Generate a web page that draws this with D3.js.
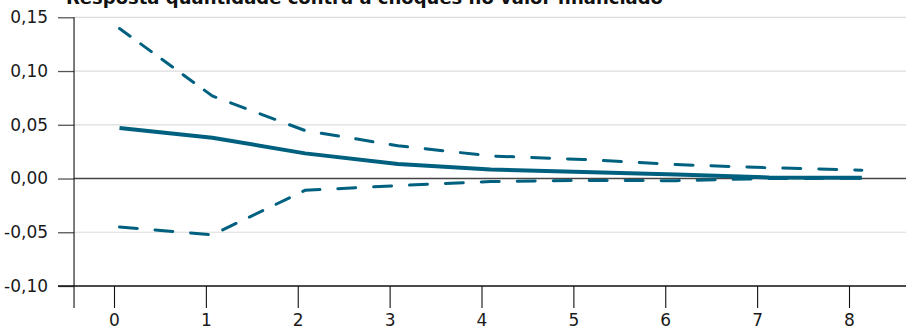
<!DOCTYPE html>
<html>
<head>
<meta charset="utf-8">
<script src="https://cdn.jsdelivr.net/npm/d3@7"></script>
<style>
  html, body { margin: 0; padding: 0; background: #fff; }
  svg { display: block; }
</style>
</head>
<body>
<svg id="chart" width="906" height="331"></svg>
<script>
// Impulse response: quantity vs. shocks to the financed value
const title = "Resposta quantidade contra a choques no valor financiado";
const periods = [0, 1, 2, 3, 4, 5, 6, 7, 8];
const response = [0.047, 0.038, 0.0234, 0.0135, 0.0085, 0.006, 0.0038, 0.001, 0.0008];
const upperBand = [0.1396, 0.0768, 0.0446, 0.0305, 0.021, 0.0177, 0.013, 0.010, 0.0078];
const lowerBand = [-0.045, -0.0524, -0.011, -0.0066, -0.0028, -0.0018, -0.002, 0.0, 0.0003];
const xTicks = [0, 1, 2, 3, 4, 5, 6, 7, 8];
const yTicks = [-0.10, -0.05, 0.00, 0.05, 0.10, 0.15];

const color = "#00607f";
const font = "'DejaVu Sans', sans-serif";
const W = 906, H = 331;

const svg = d3.select("#chart");

const x = d3.scaleLinear().domain([0, 8]).range([114, 849]);
const y = d3.scaleLinear().domain([-0.10, 0.15]).range([286, 17.3]);
// series points sit slightly to the right of the axis ticks
const xStep = d3.scaleLinear().domain([0, 8]).range([x(0.06), x(8.14)]);

const axisX = x(-0.435);
const tickLen = 22;

// gridlines
svg.append("g").selectAll("line")
  .data(yTicks.filter(v => v !== 0 && v !== -0.10))
  .join("line")
  .attr("x1", axisX).attr("x2", W)
  .attr("y1", d => y(d)).attr("y2", d => y(d))
  .attr("stroke", "#dcdcdc").attr("stroke-width", 1.2);

// zero line
svg.append("line")
  .attr("x1", axisX).attr("x2", W)
  .attr("y1", y(0)).attr("y2", y(0))
  .attr("stroke", "#444").attr("stroke-width", 1.5);

// y axis
const yAxis = d3.axisLeft(y).tickValues(yTicks)
  .tickFormat(d => d3.format(".2f")(d).replace(".", ",").replace("−", "-"))
  .tickSize(16).tickPadding(10);
const gy = svg.append("g").attr("transform", `translate(${axisX},0)`).call(yAxis);
gy.select(".domain").remove();
gy.selectAll(".tick line").attr("stroke", "#555").attr("stroke-width", 1.3);
gy.selectAll(".tick text").attr("font-family", font).attr("font-size", 17).attr("fill", "#1a1a1a");
svg.append("line")
  .attr("x1", axisX).attr("x2", axisX)
  .attr("y1", y(0.15)).attr("y2", y(-0.10) + tickLen)
  .attr("stroke", "#111").attr("stroke-width", 1.1);

// x axis
const xAxis = d3.axisBottom(x).tickValues(xTicks).tickFormat(d3.format("d"))
  .tickSize(tickLen).tickPadding(6);
const gx = svg.append("g").attr("transform", `translate(0,${y(-0.10)})`).call(xAxis);
gx.select(".domain").remove();
gx.selectAll(".tick line").attr("stroke", "#111").attr("stroke-width", 1.1);
gx.selectAll(".tick text").attr("font-family", font).attr("font-size", 17).attr("fill", "#1a1a1a");
svg.append("line")
  .attr("x1", axisX - 16).attr("x2", W)
  .attr("y1", y(-0.10)).attr("y2", y(-0.10))
  .attr("stroke", "#111").attr("stroke-width", 1.3);

// dash pattern measured with vertical distances stretched
function dashedPath(pts, on, off, ky) {
  let out = "";
  let state = true, remain = on, drawing = false;
  for (let i = 0; i < pts.length - 1; i++) {
    const [x0, y0] = pts[i], [x1, y1] = pts[i + 1];
    const dx = x1 - x0, dy = y1 - y0;
    const segLen = Math.hypot(dx, dy / ky);
    let t = 0;
    if (state && !drawing) { out += `M${x0},${y0}`; drawing = true; }
    while (segLen * (1 - t) > remain) {
      t += remain / segLen;
      const px = x0 + dx * t, py = y0 + dy * t;
      if (state) { out += `L${px},${py}`; drawing = false; }
      else { out += `M${px},${py}`; drawing = true; }
      state = !state;
      remain = state ? on : off;
    }
    remain -= segLen * (1 - t);
    if (state) out += `L${x1},${y1}`;
  }
  return out;
}

const toPts = vals => periods.map((p, i) => [xStep(p), y(vals[i])]);

[upperBand, lowerBand].forEach(band => {
  svg.append("path")
    .attr("d", dashedPath(toPts(band), 18, 18, 0.53))
    .attr("fill", "none").attr("stroke", color)
    .attr("stroke-width", 3).attr("stroke-linecap", "round");
});

const line = d3.line().x(d => xStep(d.p)).y(d => y(d.v));
svg.append("path")
  .datum(periods.map((p, i) => ({ p, v: response[i] })))
  .attr("d", line)
  .attr("fill", "none").attr("stroke", color)
  .attr("stroke-width", 4).attr("stroke-linejoin", "round");

// title (top clipped by the frame)
svg.append("text")
  .attr("x", 66).attr("y", 3.7)
  .attr("font-family", font).attr("font-weight", "bold").attr("font-size", 17)
  .attr("fill", "#111")
  .attr("textLength", 597).attr("lengthAdjust", "spacingAndGlyphs")
  .text(title);
</script>
</body>
</html>
